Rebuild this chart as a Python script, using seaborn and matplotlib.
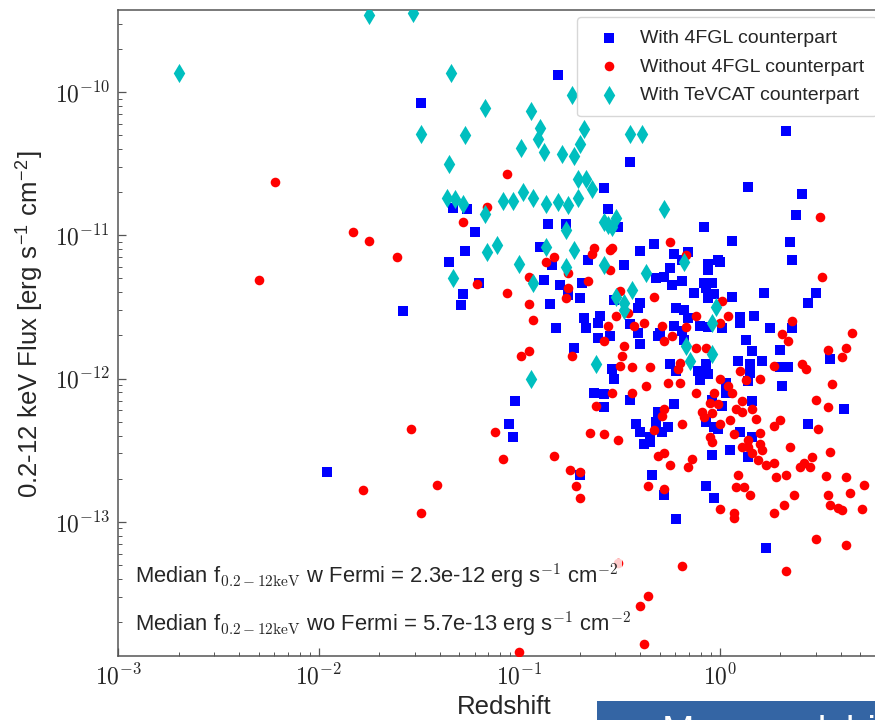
import numpy as np
import pandas as pd
import seaborn as sns
import matplotlib
matplotlib.use('Agg')
import matplotlib.pyplot as plt
from matplotlib.ticker import LogLocator, FuncFormatter, NullFormatter
from matplotlib.patches import Rectangle

# (log10 redshift, log10 flux)
with_4fgl = [
    (-1.49, -10.08), (-0.81, -9.88), (-0.45, -10.49), (-0.58, -10.67), (-0.56, -10.82), (0.33, -10.27),
    (0.14, -10.66), (0.41, -10.71), (0.38, -10.86), (-1.33, -10.81), (-1.26, -10.82), (-0.86, -10.92),
    (-0.77, -10.92), (-0.51, -10.94), (-0.08, -10.94), (-1.22, -10.98), (-1.27, -11.11), (-1.35, -11.19),
    (-1.20, -11.33), (-1.28, -11.41), (-1.29, -11.49), (-1.58, -11.53), (-0.90, -11.08), (-0.84, -11.21),
    (-0.80, -11.35), (-0.76, -11.42), (-0.70, -11.44), (-0.69, -11.33), (-0.66, -11.17), (-0.48, -11.21),
    (-0.40, -11.11), (-0.33, -11.06), (-0.23, -11.13), (-0.16, -11.12), (-0.19, -11.17), (-0.25, -11.23),
    (-0.32, -11.30), (-0.28, -11.29), (-0.24, -11.35), (-0.19, -11.32), (-0.13, -11.40), (-0.53, -11.45),
    (-0.40, -11.47), (-0.41, -11.51), (0.06, -11.04), (-0.06, -11.20), (-0.06, -11.24), (-0.01, -11.17),
    (0.00, -11.19), (-0.08, -11.33), (-0.04, -11.33), (-0.07, -11.37), (-0.03, -11.41), (-0.06, -11.44),
    (0.06, -11.43), (0.22, -11.40), (0.35, -11.05), (0.36, -11.17), (0.48, -11.40), (0.44, -11.47),
    (0.01, -11.65), (0.10, -11.57), (0.10, -11.61), (0.17, -11.56), (-0.22, -11.51), (-0.18, -11.52),
    (-0.16, -11.58), (-0.10, -11.63), (-0.06, -11.64), (-0.68, -11.58), (-0.60, -11.56), (-0.61, -11.61),
    (-0.67, -11.65), (-0.55, -11.70), (-0.61, -11.72), (-0.82, -11.65), (-0.85, -11.48), (-0.88, -11.31),
    (-0.45, -11.62), (-0.41, -11.68), (-0.40, -11.76), (-0.30, -11.68), (-0.31, -11.70), (-0.23, -11.63),
    (-0.19, -11.67), (-0.18, -11.73), (0.13, -11.73), (0.16, -11.81), (0.30, -11.80), (0.25, -11.65),
    (0.36, -11.65), (0.55, -11.86), (0.09, -11.88), (0.21, -11.88), (0.30, -11.92), (0.34, -11.92),
    (0.15, -11.90), (0.15, -11.96), (0.14, -12.02), (0.03, -12.03), (0.03, -12.10), (0.31, -12.05),
    (-0.25, -11.90), (-0.22, -11.95), (-0.11, -11.95), (-0.07, -11.90), (-0.06, -11.97), (-0.10, -12.01),
    (-0.54, -11.93), (-0.53, -12.00), (-0.58, -12.11), (-0.63, -12.10), (-0.45, -12.15), (-0.58, -12.20),
    (-0.73, -11.79), (-1.02, -12.16), (-1.05, -12.32), (-1.03, -12.41), (-0.70, -12.67), (-0.34, -12.67),
    (-0.28, -12.81), (-0.31, -12.23), (-0.23, -12.18), (-0.42, -12.32), (-0.40, -12.37), (-0.35, -12.41),
    (-0.35, -12.44), (-0.38, -12.46), (-0.32, -12.30), (-0.29, -12.37), (-0.26, -12.34), (-0.07, -12.75),
    (-0.03, -12.83), (-0.22, -12.98), (-0.04, -12.15), (0.01, -12.19), (-0.07, -12.30), (-0.03, -12.34),
    (-0.01, -12.35), (-0.04, -12.53), (0.16, -12.16), (0.05, -12.50), (0.10, -12.37), (0.16, -12.41),
    (0.14, -12.55), (0.44, -12.32), (0.62, -12.21), (0.23, -13.18), (-1.96, -12.65),
]

without_4fgl = [
    (-2.22, -10.63), (-1.83, -10.98), (-1.75, -11.04), (-1.61, -11.15), (-2.30, -11.31), (-1.54, -12.35),
    (-1.78, -12.78), (-1.49, -12.94), (-1.41, -12.74), (-1.06, -10.57), (-1.16, -10.80), (0.50, -10.87),
    (-1.28, -10.91), (-1.21, -11.34), (-0.95, -11.29), (-0.83, -11.15), (-0.87, -11.19), (-0.76, -11.26),
    (-0.76, -11.37), (-0.77, -11.44), (-0.66, -11.32), (-0.63, -11.09), (-0.64, -11.13), (-0.55, -11.10),
    (-0.54, -11.09), (-0.55, -11.24), (-0.25, -11.05), (-0.17, -11.14), (-0.33, -11.43), (-0.50, -11.39),
    (-0.52, -11.56), (-0.46, -11.54), (0.01, -11.46), (0.51, -11.29), (0.04, -11.56), (0.00, -11.61),
    (-0.12, -11.56), (-0.56, -11.63), (-0.58, -11.74), (-0.93, -11.59), (-0.95, -11.48), (-1.06, -11.40),
    (-0.43, -11.63), (-0.38, -11.61), (-0.48, -11.77), (-0.29, -11.63), (-0.28, -11.74), (-0.24, -11.70),
    (-0.17, -11.64), (-0.12, -11.79), (-0.07, -11.79), (0.31, -11.69), (0.36, -11.60), (0.34, -11.74),
    (0.66, -11.68), (0.54, -11.80), (0.63, -11.79), (0.61, -11.85), (0.27, -11.91), (0.41, -11.90),
    (0.43, -11.93), (0.10, -11.95), (0.13, -12.01), (0.20, -12.00), (0.00, -12.00), (0.04, -12.05),
    (0.06, -12.10), (0.56, -12.04), (-0.20, -11.89), (-0.21, -11.93), (-0.20, -12.03), (-0.26, -12.03),
    (-0.12, -12.10), (-0.03, -12.10), (-0.35, -11.92), (-0.44, -11.92), (-0.50, -11.91), (-0.37, -12.05),
    (-0.44, -12.10), (-0.54, -12.10), (-0.49, -11.84), (-0.62, -12.19), (-0.74, -11.84), (-0.95, -11.81),
    (-0.99, -11.84), (-0.65, -12.38), (-0.58, -12.39), (-0.51, -12.43), (-0.83, -12.54), (-0.75, -12.64),
    (-0.70, -12.65), (-0.72, -12.75), (-0.70, -12.83), (-0.36, -12.75), (-0.28, -12.77), (-0.31, -12.54),
    (-0.28, -12.52), (-0.25, -12.60), (-0.28, -12.21), (-0.29, -12.26), (-0.33, -12.36), (-0.19, -12.32),
    (-0.14, -12.56), (-0.16, -12.62), (0.00, -12.91), (0.07, -12.94), (0.07, -12.97), (-0.09, -12.23),
    (-0.05, -12.17), (-0.01, -12.18), (-0.08, -12.27), (-0.04, -12.24), (0.00, -12.32), (-0.05, -12.41),
    (-0.04, -12.44), (0.05, -12.29), (0.08, -12.21), (0.11, -12.16), (0.11, -12.23), (0.16, -12.21),
    (0.18, -12.28), (0.07, -12.39), (0.14, -12.43), (0.11, -12.48), (0.14, -12.48), (0.16, -12.52),
    (0.20, -12.38), (0.20, -12.46), (0.21, -12.50), (0.19, -12.57), (0.23, -12.60), (0.27, -12.59),
    (0.09, -12.67), (0.08, -12.76), (0.12, -12.76), (0.15, -12.81), (0.28, -12.69), (0.33, -12.67),
    (0.37, -12.81), (0.32, -12.88), (0.27, -12.94), (0.27, -12.33), (0.30, -12.29), (0.49, -12.35),
    (0.35, -12.48), (0.46, -12.55), (0.42, -12.59), (0.40, -12.62), (0.45, -12.62), (0.55, -12.51),
    (0.53, -12.68), (0.63, -12.69), (0.72, -12.74), (0.65, -12.80), (0.54, -12.81), (0.55, -12.88),
    (0.59, -12.90), (0.61, -12.92), (0.71, -12.91), (0.48, -12.15), (0.54, -12.20), (0.48, -13.12),
    (0.63, -13.16), (-0.19, -13.31), (0.33, -13.34), (-0.36, -13.52), (-0.40, -13.59), (-0.38, -13.85),
    (-1.00, -13.91), (-0.51, -13.29), (-1.12, -12.37), (-1.08, -12.56),
]

with_tevcat = [
    (-2.70, -9.87), (-1.75, -9.46), (-1.53, -9.45), (-1.34, -9.87), (-1.49, -10.29), (-1.27, -10.30),
    (-1.17, -10.11), (-1.35, -10.50), (-0.74, -10.02), (-0.94, -10.13), (-0.90, -10.25), (-0.91, -10.33),
    (-0.99, -10.39), (-0.88, -10.42), (-0.79, -10.43), (-0.73, -10.45), (-0.68, -10.26), (-0.70, -10.36),
    (-0.45, -10.29), (-0.39, -10.29), (-0.71, -10.61), (-0.67, -10.61), (-0.64, -10.68), (-1.36, -10.74),
    (-1.32, -10.75), (-1.28, -10.78), (-1.08, -10.76), (-1.03, -10.76), (-0.98, -10.70), (-0.93, -10.74),
    (-0.87, -10.78), (-0.81, -10.77), (-0.76, -10.79), (-0.71, -10.74), (-1.17, -10.85), (-0.77, -10.96),
    (-0.58, -10.91), (-0.56, -10.93), (-0.52, -10.88), (-0.54, -10.94), (-0.28, -10.82), (-1.33, -11.30),
    (-1.16, -11.12), (-1.11, -11.07), (-1.00, -11.20), (-0.93, -11.33), (-0.87, -11.08), (-0.73, -11.10),
    (-0.77, -11.22), (-0.58, -11.21), (-0.37, -11.26), (-0.18, -11.19), (-0.44, -11.38), (-0.52, -11.43),
    (-0.48, -11.47), (-0.48, -11.52), (-0.02, -11.50), (-0.04, -11.61), (-0.17, -11.77), (-0.15, -11.88),
    (-0.04, -11.83), (-0.62, -11.90), (-0.94, -12.00),
]

labels = ['With 4FGL counterpart', 'Without 4FGL counterpart', 'With TeVCAT counterpart']
median_texts = [
    r'Median f$_{\mathrm{0.2-12keV}}$ w Fermi = 2.3e-12 erg s$^{-1}$ cm$^{-2}$',
    r'Median f$_{\mathrm{0.2-12keV}}$ wo Fermi = 5.7e-13 erg s$^{-1}$ cm$^{-2}$',
]

frames = []
for name, pts in zip(labels, [with_4fgl, without_4fgl, with_tevcat]):
    arr = np.array(pts)
    frames.append(pd.DataFrame({'z': 10 ** arr[:, 0], 'flux': 10 ** arr[:, 1], 'group': name}))
df = pd.concat(frames, ignore_index=True)

sns.set_theme(style='ticks')
plt.rcParams['font.family'] = ['Liberation Sans', 'DejaVu Sans']
plt.rcParams['mathtext.fontset'] = 'cm'

fig = plt.figure(figsize=(8.75, 7.2), dpi=100)
ax = fig.add_axes([0.1354, 0.0893, 0.8817, 0.8968])

styles = [('s', 'blue', 42), ('o', 'red', 48), ('d', '#00bfbf', 95)]
for i, (name, (mk, col, size)) in enumerate(zip(labels, styles)):
    sns.scatterplot(data=df[df['group'] == name], x='z', y='flux', marker=mk, color=col,
                    s=size, linewidth=0, label=name, ax=ax, zorder=2 + i)

ax.set_xscale('log')
ax.set_yscale('log')
ax.set_xlim(1e-3, 10 ** 0.848)
ax.set_ylim(10 ** -13.934, 10 ** -9.428)

fmt = FuncFormatter(lambda v, p: r'$\mathrm{10^{%d}}$' % round(np.log10(v)))
for axis in [ax.xaxis, ax.yaxis]:
    axis.set_major_locator(LogLocator(base=10, numticks=20))
    axis.set_minor_locator(LogLocator(base=10, subs=np.arange(2, 10), numticks=20))
    axis.set_major_formatter(fmt)
    axis.set_minor_formatter(NullFormatter())

ax.tick_params(which='both', direction='in', color='#555555', top=False, right=False)
ax.tick_params(which='major', length=6, width=0.9, labelsize=17, pad=6)
ax.tick_params(which='minor', length=3, width=0.7)
for sp in ax.spines.values():
    sp.set_color('#555555')
    sp.set_linewidth(1.1)

ax.set_xlabel('Redshift', fontsize=18.5)
ax.set_ylabel(r'0.2-12 keV Flux [erg s$^{\mathregular{-1}}$ cm$^{\mathregular{-2}}$]', fontsize=18.5)
ax.xaxis.set_label_coords(0.5, -0.061)
ax.yaxis.set_label_coords(-0.094, 0.5125)

leg = ax.legend(loc='upper left', bbox_to_anchor=(0.5943, 0.9892), borderaxespad=0, fontsize=14,
                frameon=True, framealpha=0.85, edgecolor='#d0d0d0', labelspacing=0.55,
                handletextpad=0.6, borderpad=0.65)
leg.set_zorder(10)

for txt, yy in zip(median_texts, [0.1126, 0.0383]):
    ax.text(0.0214, yy, txt, transform=ax.transAxes, fontsize=15.8, va='baseline', ha='left', zorder=8,
            bbox=dict(facecolor='white', edgecolor='none', alpha=0.8, pad=2))

# slide banner cut off at the bottom right
fig.add_artist(Rectangle((597 / 875, 0), 1, 19 / 720, transform=fig.transFigure,
                         facecolor='#3465a4', edgecolor='none'))
fig.text(662 / 875, -0.032, 'Mean redshift', color='white', fontsize=28, va='baseline')

fig.savefig('out.png', dpi=100)
